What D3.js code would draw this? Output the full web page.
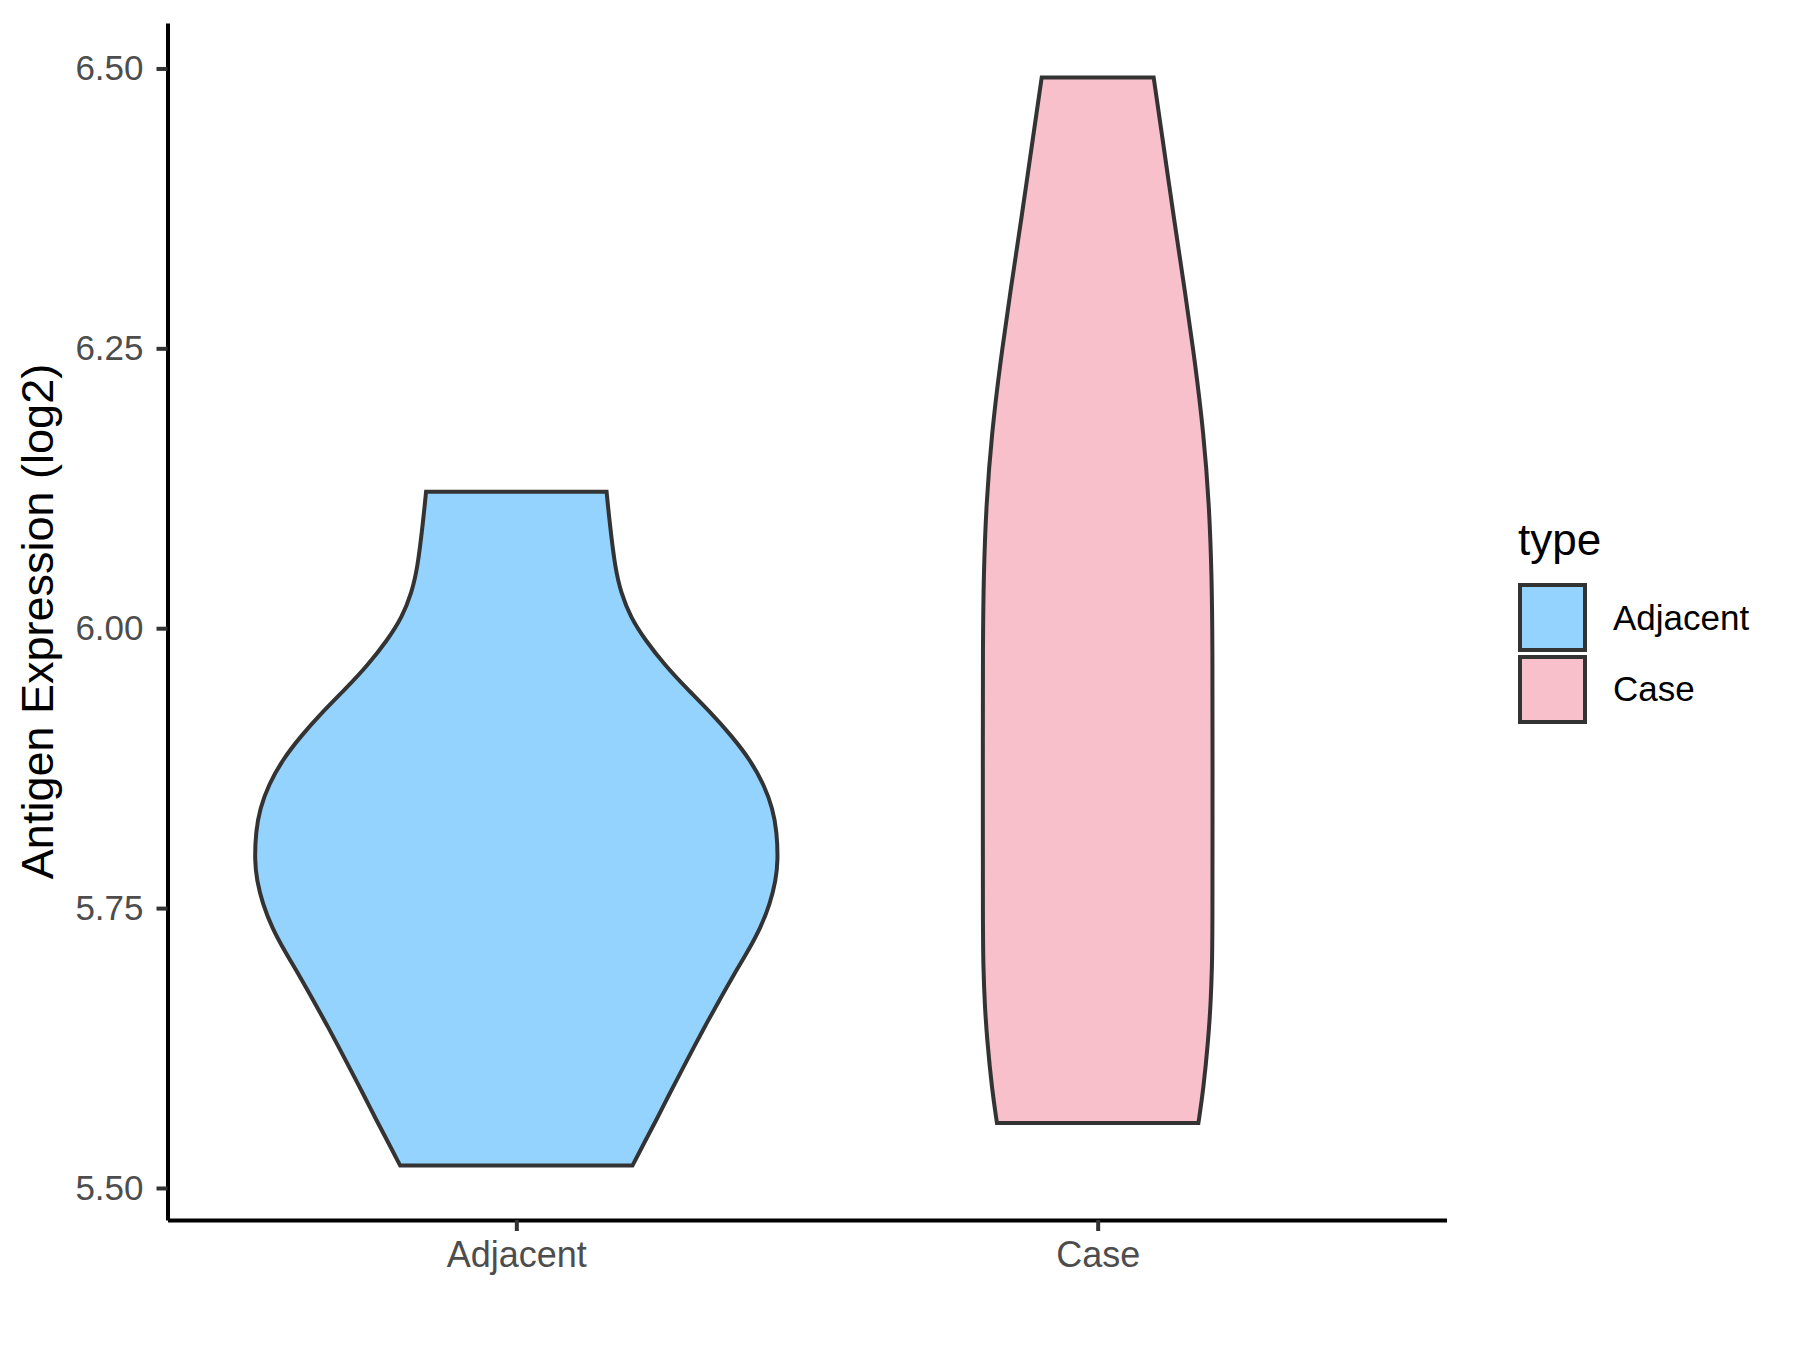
<!DOCTYPE html>
<meta charset="utf-8">

<!-- Load d3.js -->
<script src="https://d3js.org/d3.v7.min.js"></script>

<style>
  body { margin: 0; background: white; }
  text { font-family: "Liberation Sans", Arial, sans-serif; }
</style>

<!-- Create a div where the graph will take place -->
<div id="my_dataviz"></div>

<script>

// groups on the x axis
var categories = ["Adjacent", "Case"]
var fills = ["#93D3FE", "#F7C0CB"]

// violin outlines: expression value and relative width (1 = widest violin)
var adjacentValues = [5.520, 5.540, 5.561, 5.583, 5.604, 5.626, 5.647, 5.668, 5.690, 5.711, 5.732, 5.754, 5.775, 5.792,
                      5.818, 5.839, 5.860, 5.882, 5.903, 5.925, 5.946, 5.967, 5.989, 6.010, 6.032, 6.053, 6.096, 6.122]
var adjacentWidths = [0.444, 0.488, 0.536, 0.583, 0.630, 0.679, 0.727, 0.777, 0.830, 0.884, 0.933, 0.970, 0.992, 1.000,
                      0.996, 0.980, 0.947, 0.895, 0.826, 0.742, 0.652, 0.568, 0.494, 0.436, 0.400, 0.378, 0.356, 0.345]

var caseValues = [5.558, 5.588, 5.633, 5.665, 5.697, 5.728, 5.888, 5.983, 6.047, 6.111, 6.174, 6.238, 6.302, 6.365, 6.429, 6.492]
var caseWidths = [0.385, 0.404, 0.423, 0.432, 0.437, 0.439, 0.439, 0.439, 0.436, 0.426, 0.405, 0.372, 0.333, 0.292, 0.253, 0.214]

var yTicks = [5.50, 5.75, 6.00, 6.25, 6.50]

var violins = [
  {type: categories[0], pts: adjacentValues.map(function(v, i) { return {v: v, w: adjacentWidths[i]} })},
  {type: categories[1], pts: caseValues.map(function(v, i) { return {v: v, w: caseWidths[i]} })}
]

// set the dimensions and margins of the graph
var margin = {left: 167.5, right: 353.5, top: 23, bottom: 130},
    width = 1800 - margin.left - margin.right,
    height = 1350 - margin.top - margin.bottom;

var svg = d3.select("#my_dataviz")
  .append("svg")
  .attr("width", 1800)
  .attr("height", 1350)
  .append("g")
  .attr("transform", "translate(" + margin.left + "," + margin.top + ")");

// y scale: data range plus 5% each side
var allValues = adjacentValues.concat(caseValues)
var yMin = d3.min(allValues), yMax = d3.max(allValues)
var pad = (yMax - yMin) * 0.05
var y = d3.scaleLinear()
  .domain([yMin - pad, yMax + pad])
  .range([height, 0]);

// x scale
var x = d3.scalePoint()
  .domain(categories)
  .range([0, width])
  .padding(0.6);

var halfMax = x.step() * 0.45

var color = d3.scaleOrdinal()
  .domain(categories)
  .range(fills)

// Show the violins
svg.selectAll(".violin")
  .data(violins)
  .enter()
  .append("path")
  .attr("class", "violin")
  .attr("d", function(d) {
    var cx = x(d.type)
    return d3.area()
      .y(function(p) { return y(p.v) })
      .x0(function(p) { return cx - p.w * halfMax })
      .x1(function(p) { return cx + p.w * halfMax })
      .curve(d3.curveBasis)(d.pts)
  })
  .attr("fill", function(d) { return color(d.type) })
  .attr("stroke", "#333333")
  .attr("stroke-width", 4);

// Add Y axis
var yAxis = svg.append("g")
  .call(d3.axisLeft(y).tickValues(yTicks).tickFormat(d3.format(".2f")).tickSize(11).tickSizeOuter(0).tickPadding(13));
yAxis.select(".domain").attr("stroke", "black").attr("stroke-width", 4);
yAxis.selectAll(".tick line").attr("stroke", "#333333").attr("stroke-width", 4);
yAxis.selectAll(".tick text")
  .attr("fill", "#4D4D4D")
  .style("font-size", "35px")
  .style("font-family", "'Liberation Sans', Arial, sans-serif");

// Add X axis
var xAxis = svg.append("g")
  .attr("transform", "translate(0," + height + ")")
  .call(d3.axisBottom(x).tickSize(11).tickSizeOuter(0).tickPadding(10));
xAxis.select(".domain").attr("stroke", "black").attr("stroke-width", 4);
xAxis.selectAll(".tick line").attr("stroke", "#333333").attr("stroke-width", 4);
xAxis.selectAll(".tick text")
  .attr("fill", "#4D4D4D")
  .style("font-size", "36px")
  .style("font-family", "'Liberation Sans', Arial, sans-serif");

// y axis title
svg.append("text")
  .attr("transform", "translate(" + (53 - margin.left) + "," + (height / 2) + ") rotate(-90)")
  .attr("text-anchor", "middle")
  .style("font-size", "45px")
  .attr("fill", "black")
  .text("Antigen Expression (log2)");

// legend
var legend = d3.select("svg").append("g")

legend.append("text")
  .attr("x", 1518)
  .attr("y", 555)
  .style("font-size", "44px")
  .attr("fill", "black")
  .text("type");

legend.selectAll("rect")
  .data(categories)
  .enter()
  .append("rect")
  .attr("x", 1520)
  .attr("y", function(d, i) { return 585 + i * 72 })
  .attr("width", 65)
  .attr("height", 65)
  .attr("fill", function(d) { return color(d) })
  .attr("stroke", "#333333")
  .attr("stroke-width", 4);

legend.selectAll(".lab")
  .data(categories)
  .enter()
  .append("text")
  .attr("class", "lab")
  .attr("x", 1613)
  .attr("y", function(d, i) { return 630 + i * 71 })
  .style("font-size", "35px")
  .attr("fill", "black")
  .text(function(d) { return d });

</script>
